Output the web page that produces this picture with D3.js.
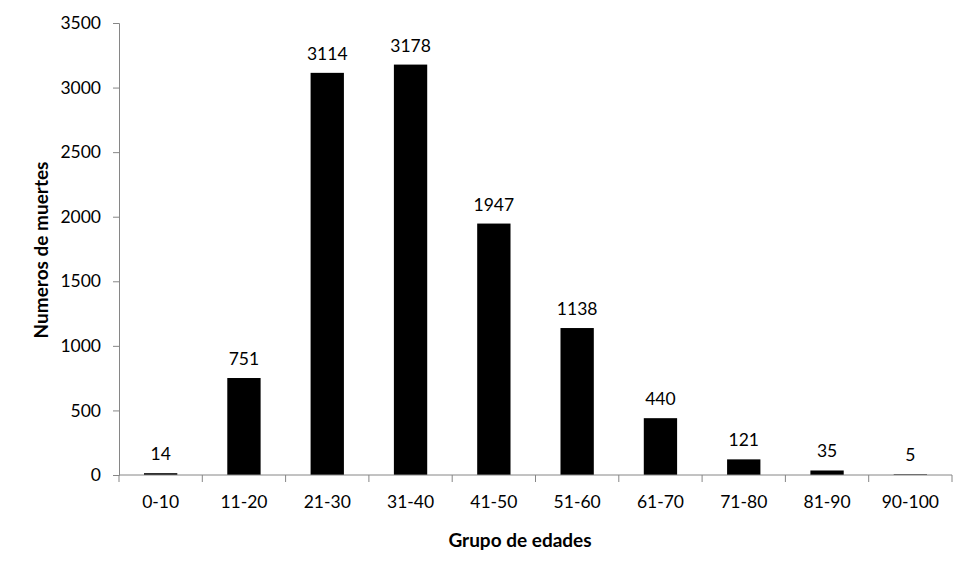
<!DOCTYPE html>
<html>
<head>
<meta charset="utf-8">
<title>Grupo de edades</title>
<style>
  body { margin: 0; background: #fff; font-family: Lato, "Open Sans", sans-serif; }
  .axis path, .axis line { stroke: #868686; }
  .axis text { font-size: 17.5px; fill: #000; font-family: Lato, sans-serif; }
</style>
</head>
<body>
<script src="https://cdn.jsdelivr.net/npm/d3@7"></script>
<script>
var categories = ["0-10", "11-20", "21-30", "31-40", "41-50", "51-60", "61-70", "71-80", "81-90", "90-100"];
var deaths = [14, 751, 3114, 3178, 1947, 1138, 440, 121, 35, 5];
var yTicks = [0, 500, 1000, 1500, 2000, 2500, 3000, 3500];

var width = 975, height = 572;
var margin = {top: 23, right: 23, bottom: 97, left: 119};

var svg = d3.select("body").append("svg")
    .attr("width", width)
    .attr("height", height);

var x = d3.scaleBand()
    .domain(categories)
    .range([margin.left, width - margin.right])
    .paddingInner(0.6)
    .paddingOuter(0.3);

var y = d3.scaleLinear()
    .domain([0, 3500])
    .range([height - margin.bottom, margin.top]);

// bars
svg.selectAll(".bar")
    .data(deaths)
    .enter().append("rect")
    .attr("class", "bar")
    .attr("x", function (d, i) { return x(categories[i]); })
    .attr("width", x.bandwidth())
    .attr("y", function (d) { return y(d); })
    .attr("height", function (d) { return y(0) - y(d); })
    .attr("fill", "#000");

// value labels
svg.selectAll(".val")
    .data(deaths)
    .enter().append("text")
    .attr("class", "val")
    .attr("x", function (d, i) { return x(categories[i]) + x.bandwidth() / 2; })
    .attr("y", function (d) { return y(d) - 13; })
    .attr("text-anchor", "middle")
    .style("font-size", "17.5px")
    .text(function (d) { return d; });

// y axis
svg.append("g")
    .attr("class", "axis")
    .attr("transform", "translate(" + margin.left + ",0)")
    .call(d3.axisLeft(y).tickValues(yTicks).tickFormat(d3.format("d"))
        .tickSizeOuter(0).tickSize(6).tickPadding(12));

// x axis: ticks at category boundaries
var xAxis = svg.append("g")
    .attr("class", "axis")
    .attr("transform", "translate(0," + y(0) + ")");
xAxis.append("path")
    .attr("d", "M" + margin.left + ",0H" + (width - margin.right));
var step = x.step();
var bounds = d3.range(categories.length + 1).map(function (i) {
    return margin.left + i * step;
});
xAxis.selectAll("line")
    .data(bounds)
    .enter().append("line")
    .attr("x1", function (d) { return d; })
    .attr("x2", function (d) { return d; })
    .attr("y1", 0)
    .attr("y2", 7);
xAxis.selectAll("text")
    .data(categories)
    .enter().append("text")
    .attr("x", function (d) { return x(d) + x.bandwidth() / 2; })
    .attr("y", 33)
    .attr("text-anchor", "middle")
    .text(function (d) { return d; });

// axis titles
svg.append("text")
    .attr("x", 520)
    .attr("y", 547)
    .attr("text-anchor", "middle")
    .style("font-size", "19px")
    .style("font-weight", "bold")
    .text("Grupo de edades");

svg.append("text")
    .attr("transform", "translate(48,250) rotate(-90)")
    .attr("text-anchor", "middle")
    .style("font-size", "19px")
    .style("font-weight", "bold")
    .text("Numeros de muertes");
</script>
</body>
</html>
